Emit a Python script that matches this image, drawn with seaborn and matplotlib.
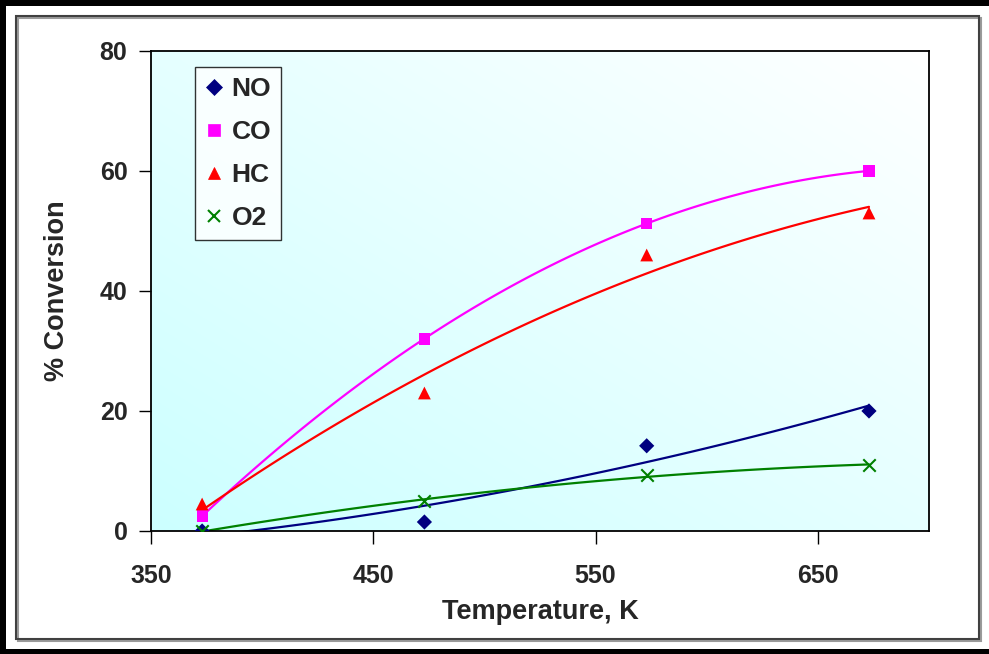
import numpy as np
import pandas as pd
import matplotlib
matplotlib.use("Agg")
import matplotlib.pyplot as plt
from matplotlib.patches import Rectangle
from matplotlib.lines import Line2D
import seaborn as sns

# ---- data ----
temperature = [373, 473, 573, 673]
no_conv = [0.0, 1.5, 14.2, 20.0]
co_conv = [2.5, 32.0, 51.3, 60.0]
hc_conv = [4.5, 23.0, 46.0, 53.0]
o2_conv = [0.0, 5.0, 9.3, 11.0]
series_names = ["NO", "CO", "HC", "O2"]
x_ticks = [350, 450, 550, 650]
y_ticks = [0, 20, 40, 60, 80]

colors = {"NO": "#000080", "CO": "#FF00FF", "HC": "#FF0000", "O2": "#008000"}
markers = {"NO": "D", "CO": "s", "HC": "^", "O2": "x"}
msizes = {"NO": 60, "CO": 65, "HC": 85, "O2": 80}

sns.set_theme(style="white")
plt.rcParams["font.family"] = ["Liberation Sans", "DejaVu Sans"]
plt.rcParams["font.weight"] = "bold"

values = {"NO": no_conv, "CO": co_conv, "HC": hc_conv, "O2": o2_conv}
pts = pd.DataFrame([(t, v, s) for s in series_names for t, v in zip(temperature, values[s])],
                   columns=["T", "conv", "series"])

# polynomial (order 2) trend lines like the spreadsheet
xs = np.linspace(temperature[0], temperature[-1], 120)
trend_rows = []
for s in series_names:
    c = np.polyfit(temperature, values[s], 2)
    for xv, yv in zip(xs, np.polyval(c, xs)):
        trend_rows.append((xv, yv, s))
trend = pd.DataFrame(trend_rows, columns=["T", "conv", "series"])

fig = plt.figure(figsize=(9.89, 6.54), dpi=100)
ax = fig.add_axes([151/989, 1-531/654, (929-151)/989, (531-51)/654])

# gradient background: cyan bottom-left -> white top-right
n = 200
gx, gy = np.meshgrid(np.linspace(0, 1, n), np.linspace(0, 1, n))
t = np.clip((gx + gy) / 2.0, 0, 1)  # origin lower
c0 = np.array([0.80, 1.0, 1.0])
c1 = np.array([1.0, 1.0, 1.0])
img = c0[None, None, :] * (1 - t[..., None]) + c1[None, None, :] * t[..., None]
ax.imshow(img, extent=(0, 1, 0, 1), transform=ax.transAxes, origin="lower",
          aspect="auto", zorder=0, interpolation="bilinear")

sns.lineplot(data=trend, x="T", y="conv", hue="series", palette=colors,
             hue_order=series_names, linewidth=1.6, legend=False, ax=ax, zorder=2,
             sort=False, estimator=None)
for s in series_names:
    d = pts[pts.series == s]
    kw = dict(linewidths=1.5) if s == "O2" else dict(edgecolor="none")
    sns.scatterplot(data=d, x="T", y="conv", color=colors[s], marker=markers[s],
                    s=msizes[s], ax=ax, zorder=3, legend=False, **kw)

ax.set_xlim(350, 700)
ax.set_ylim(0, 80)
ax.set_xticks(x_ticks)
ax.set_yticks(y_ticks)
ax.tick_params(axis="x", direction="out", length=9, width=1, color="black",
               pad=15, labelsize=18, bottom=True)
ax.tick_params(axis="y", direction="out", length=9, width=1, color="black",
               pad=8, labelsize=18, left=True)
for lab in ax.get_xticklabels() + ax.get_yticklabels():
    lab.set_fontweight("bold")
ax.set_xlabel("Temperature, K", fontsize=19.5, fontweight="bold", labelpad=8)
ax.set_ylabel("% Conversion", fontsize=19.5, fontweight="bold", labelpad=21)
for sp in ax.spines.values():
    sp.set_visible(True)
    sp.set_color("black")
    sp.set_linewidth(1.3)

handles = [Line2D([], [], linestyle="none", marker=markers[s], color=colors[s],
                  markeredgecolor=colors[s], markersize=8 if s != "HC" else 9,
                  markeredgewidth=1.5 if s == "O2" else 0.5, label=s) for s in series_names]
leg = ax.legend(handles=handles, loc="upper left", bbox_to_anchor=(44/778, 1-16/480),
                borderaxespad=0, frameon=True, fancybox=False, edgecolor="black",
                facecolor="white", prop={"size": 19, "weight": "bold"}, handlelength=0.7,
                handletextpad=0.3, labelspacing=0.72, borderpad=0.38)
leg.get_frame().set_linewidth(1.0)

# chart frame
W, H = 989, 654
def frect(x0, y0, x1, y1, **kw):
    fig.patches.append(Rectangle((x0/W, 1-y1/H), (x1-x0)/W, (y1-y0)/H,
                                 transform=fig.transFigure, **kw))
frect(0, 0, 989, 6, facecolor="black", edgecolor="none")
frect(0, 0, 6, 654, facecolor="black", edgecolor="none")
frect(0, 649, 989, 654, facecolor="black", edgecolor="none")
frect(18, 18, 981, 641, facecolor="none", edgecolor="#9a9a9a", linewidth=1.5)
frect(16, 16, 979, 639, facecolor="none", edgecolor="#404040", linewidth=1.5)

fig.savefig("out.png", dpi=100)
